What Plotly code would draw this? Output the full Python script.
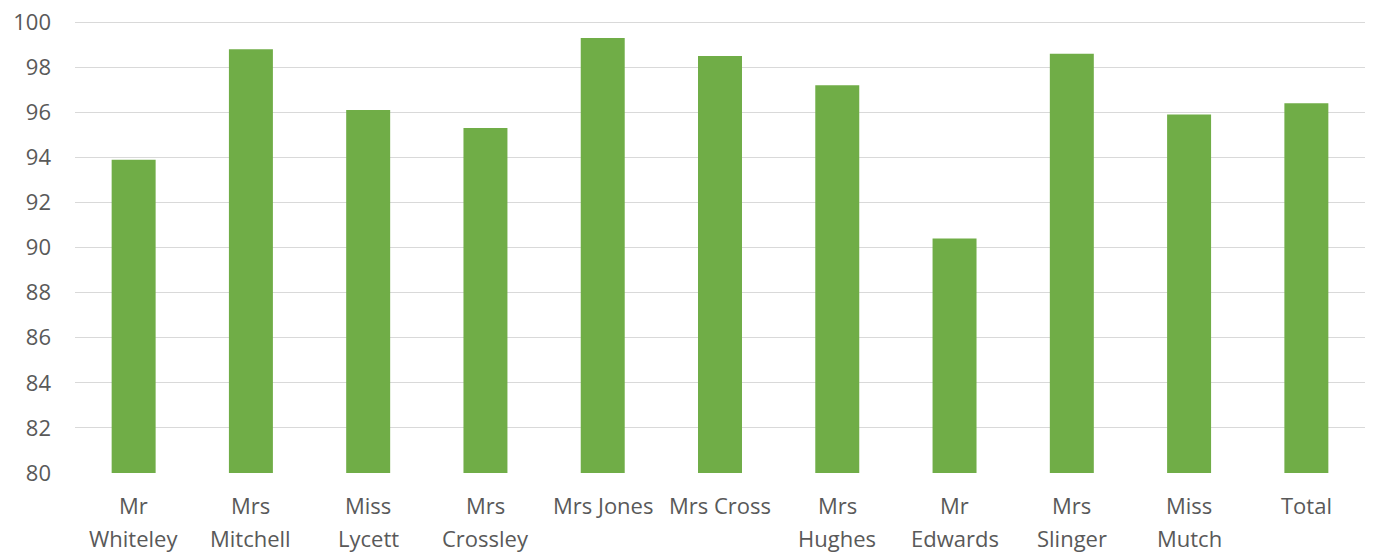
import plotly.graph_objects as go

categories = ["Mr Whiteley", "Mrs Mitchell", "Miss Lycett", "Mrs Crossley", "Mrs Jones",
              "Mrs Cross", "Mrs Hughes", "Mr Edwards", "Mrs Slinger", "Miss Mutch", "Total"]
label_line1 = ["Mr", "Mrs", "Miss", "Mrs", "Mrs Jones", "Mrs Cross", "Mrs", "Mr", "Mrs", "Miss", "Total"]
label_line2 = ["Whiteley", "Mitchell", "Lycett", "Crossley", "", "", "Hughes", "Edwards", "Slinger", "Mutch", ""]
values = [93.9, 98.8, 96.1, 95.3, 99.3, 98.5, 97.2, 90.4, 98.6, 95.9, 96.4]
y_ticks = [80, 82, 84, 86, 88, 90, 92, 94, 96, 98, 100]

FONT = "Open Sans"
GRAY = "#595959"
FSIZE = 22

fig = go.Figure(go.Bar(
    x=categories, y=values,
    marker=dict(color="#70ad47", line=dict(width=0)),
    hoverinfo="x+y",
))

annotations = []
for cat, l1, l2 in zip(categories, label_line1, label_line2):
    annotations.append(dict(x=cat, y=0, xref="x", yref="paper", text=l1, showarrow=False,
                            yanchor="middle", yshift=-32,
                            font=dict(family=FONT, size=FSIZE, color=GRAY)))
    if l2:
        annotations.append(dict(x=cat, y=0, xref="x", yref="paper", text=l2, showarrow=False,
                                yanchor="middle", yshift=-65,
                                font=dict(family=FONT, size=FSIZE, color=GRAY)))

fig.update_layout(
    width=1375, height=554,
    margin=dict(l=75, r=10, t=21, b=81),
    paper_bgcolor="white", plot_bgcolor="white",
    bargap=0.625,
    showlegend=False,
    font=dict(family=FONT, size=FSIZE, color=GRAY),
    annotations=annotations,
    xaxis=dict(showticklabels=False, showgrid=False, showline=False, zeroline=False,
               range=[-0.5, len(categories) - 0.5], automargin=False),
    yaxis=dict(range=[80, 100.05], tickvals=y_ticks, showgrid=True, gridcolor="#d9d9d9",
               gridwidth=1, zeroline=False, showline=False, ticklabelstandoff=23,
               ticklabeloverflow="allow", automargin=False,
               tickfont=dict(family=FONT, size=FSIZE, color=GRAY)),
)

fig.write_html("out.html", config={"displayModeBar": False},
               post_script="document.body.style.margin='0';document.body.style.overflow='hidden';")
